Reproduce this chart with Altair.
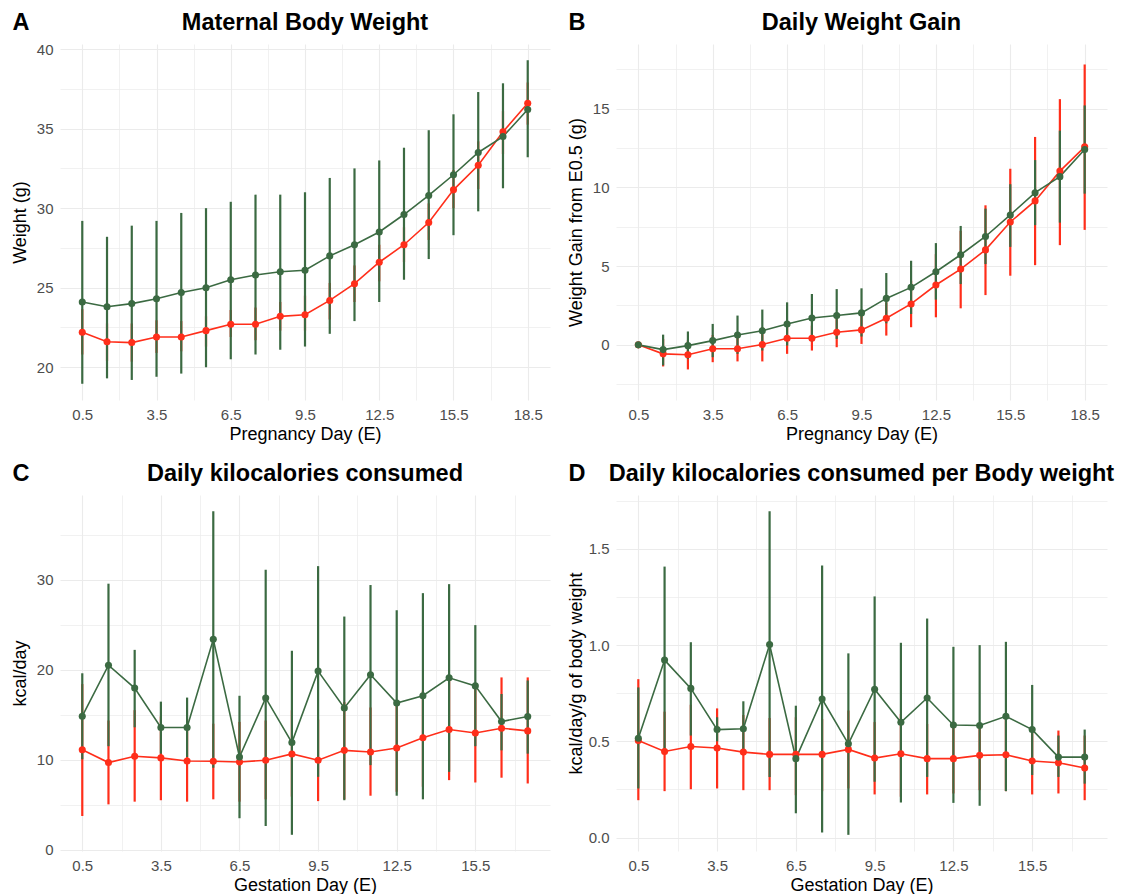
import altair as alt
import pandas as pd

# ---------------- data ----------------
days_ab = [0.5, 1.5, 2.5, 3.5, 4.5, 5.5, 6.5, 7.5, 8.5, 9.5, 10.5, 11.5, 12.5, 13.5, 14.5, 15.5, 16.5, 17.5, 18.5]
days_cd = [0.5, 1.5, 2.5, 3.5, 4.5, 5.5, 6.5, 7.5, 8.5, 9.5, 10.5, 11.5, 12.5, 13.5, 14.5, 15.5, 16.5, 17.5]

# Panel A: Maternal body weight (g)
a_red_mean = [22.2, 21.6, 21.55, 21.9, 21.9, 22.3, 22.7, 22.7, 23.2, 23.3, 24.2, 25.25, 26.6, 27.7, 29.1, 31.15, 32.7, 34.8, 36.6]
a_red_hi = [23.65, 22.75, 22.75, 22.95, 22.9, 23.2, 23.6, 23.75, 24.1, 24.5, 25.3, 26.4, 27.7, 28.8, 30.3, 32.4, 34.2, 36.1, 37.9]
a_red_lo = [20.8, 20.4, 20.35, 20.9, 21.0, 21.3, 21.9, 21.7, 22.3, 22.3, 23.0, 24.1, 25.4, 26.6, 28.0, 30.0, 31.2, 33.4, 35.25]
a_grn_mean = [24.1, 23.8, 24.0, 24.3, 24.7, 25.0, 25.5, 25.8, 26.0, 26.1, 27.0, 27.7, 28.5, 29.6, 30.8, 32.1, 33.5, 34.5, 36.2]
a_grn_hi = [29.2, 28.2, 28.9, 29.2, 29.7, 30.0, 30.4, 30.85, 30.85, 31.0, 31.9, 32.5, 33.0, 33.8, 34.9, 35.9, 37.3, 37.85, 39.3]
a_grn_lo = [18.96, 19.3, 19.2, 19.4, 19.6, 20.0, 20.5, 20.8, 21.1, 21.3, 22.1, 22.9, 24.1, 25.5, 26.8, 28.3, 29.8, 31.25, 33.2]

# Panel B: Weight gain from E0.5 (g)
b_red_mean = [0.0, -0.57, -0.63, -0.25, -0.25, 0.02, 0.42, 0.42, 0.8, 0.95, 1.69, 2.6, 3.8, 4.81, 6.03, 7.8, 9.14, 11.03, 12.57]
b_red_hi = [0.0, 0.38, 0.27, 0.63, 0.59, 1.12, 1.39, 1.22, 1.86, 1.96, 2.7, 4.07, 5.76, 7.24, 8.86, 11.18, 13.2, 15.6, 17.8]
b_red_lo = [0.0, -1.37, -1.56, -1.1, -1.05, -1.05, -0.57, -0.36, -0.15, 0.06, 0.59, 1.12, 1.75, 2.32, 3.16, 4.39, 5.06, 6.33, 7.3]
b_grn_mean = [0.0, -0.3, -0.05, 0.27, 0.63, 0.9, 1.33, 1.71, 1.86, 2.03, 2.95, 3.65, 4.64, 5.72, 6.88, 8.25, 9.66, 10.68, 12.4]
b_grn_hi = [0.0, 0.65, 0.85, 1.33, 1.86, 2.24, 2.7, 3.23, 3.54, 3.59, 4.56, 5.34, 6.46, 7.55, 8.65, 10.2, 11.73, 13.6, 15.2]
b_grn_lo = [0.0, -1.3, -0.9, -0.78, -0.57, -0.36, -0.04, 0.21, 0.38, 0.53, 1.37, 1.96, 2.87, 3.86, 5.13, 6.22, 7.6, 7.76, 9.6]

# Panel C: Daily kilocalories consumed (kcal/day)
c_red_mean = [11.1, 9.68, 10.38, 10.2, 9.86, 9.83, 9.75, 9.94, 10.64, 9.94, 11.04, 10.86, 11.3, 12.44, 13.36, 12.96, 13.5, 13.2]
c_red_hi = [18.4, 14.35, 15.5, 14.8, 14.5, 14.0, 14.2, 14.35, 15.5, 14.46, 16.4, 15.8, 16.4, 17.67, 18.95, 18.15, 19.14, 19.14]
c_red_lo = [3.75, 5.04, 5.34, 5.5, 5.34, 5.6, 5.34, 5.6, 5.9, 5.4, 5.6, 6.0, 6.44, 7.0, 7.73, 7.47, 8.0, 7.36]
c_grn_mean = [14.83, 20.5, 17.96, 13.58, 13.58, 23.37, 10.3, 16.86, 11.9, 19.84, 15.75, 19.43, 16.3, 17.1, 19.1, 18.2, 14.24, 14.8]
c_grn_hi = [19.6, 29.55, 22.2, 16.45, 16.9, 37.6, 17.1, 31.1, 22.1, 31.5, 25.9, 29.4, 26.6, 28.5, 29.5, 24.95, 17.3, 18.8]
c_grn_lo = [10.05, 11.5, 13.6, 10.67, 10.3, 9.1, 3.5, 2.65, 1.66, 8.1, 5.5, 9.4, 6.0, 5.6, 8.65, 11.5, 11.04, 10.67]

# Panel D: Daily kilocalories per body weight (kcal/day/g)
d_red_mean = [0.504, 0.447, 0.473, 0.465, 0.444, 0.432, 0.432, 0.432, 0.458, 0.413, 0.435, 0.41, 0.41, 0.427, 0.43, 0.398, 0.389, 0.361]
d_red_hi = [0.823, 0.654, 0.69, 0.671, 0.637, 0.621, 0.625, 0.616, 0.66, 0.6, 0.642, 0.59, 0.578, 0.59, 0.62, 0.547, 0.556, 0.53]
d_red_lo = [0.194, 0.241, 0.251, 0.255, 0.246, 0.246, 0.22, 0.241, 0.255, 0.224, 0.212, 0.224, 0.229, 0.246, 0.241, 0.224, 0.229, 0.194]
d_grn_mean = [0.516, 0.922, 0.775, 0.561, 0.565, 1.003, 0.41, 0.72, 0.487, 0.771, 0.599, 0.725, 0.585, 0.582, 0.63, 0.561, 0.418, 0.418]
d_grn_hi = [0.78, 1.408, 1.015, 0.625, 0.708, 1.695, 0.685, 1.413, 0.957, 1.253, 1.012, 1.138, 0.991, 1.0, 1.017, 0.793, 0.53, 0.561]
d_grn_lo = [0.255, 0.436, 0.53, 0.5, 0.43, 0.315, 0.126, 0.026, 0.014, 0.29, 0.182, 0.315, 0.18, 0.165, 0.241, 0.325, 0.315, 0.28]

groups = ["Group 1", "Group 2"]
colors = ["#FF2E1A", "#3B6A42"]

FONT = "Liberation Sans"
PANEL_H = 356


def long_df(days, rm, rh, rl, gm, gh, gl):
    rows = []
    for g, (m, h, l) in zip(groups, [(rm, rh, rl), (gm, gh, gl)]):
        for d, mv, hv, lv in zip(days, m, h, l):
            rows.append({"day": d, "group": g, "mean": mv, "hi": hv, "lo": lv})
    return pd.DataFrame(rows)


def grid_width(test):
    return {"condition": {"test": test, "value": 1.1}, "value": 0.7}


def panel(df, tag, title, xtitle, ytitle, xdom, xvals, ydom, yvals, ymaj_test, yfmt, w):
    xaxis = alt.Axis(values=xvals, format=".1f",
                     labelExpr="(datum.value - 0.5) % 3 == 0 ? datum.label : ''",
                     title=xtitle, ticks=False, domain=False, labelOverlap=False,
                     labelFlush=False, labelPadding=7, titlePadding=3,
                     gridWidth=grid_width("(datum.value - 0.5) % 3 == 0"))
    yaxis = alt.Axis(values=yvals, format=yfmt,
                     labelExpr="(" + ymaj_test + ") ? datum.label : ''",
                     title=ytitle, ticks=False, domain=False, labelOverlap=False,
                     labelFlush=False, labelPadding=7, titleX=-31,
                     gridWidth=grid_width(ymaj_test))
    xenc = alt.X("day:Q", scale=alt.Scale(domain=xdom, nice=False, zero=False), axis=xaxis)
    yscale = alt.Scale(domain=ydom, nice=False, zero=False)
    color = alt.Color("group:N", scale=alt.Scale(domain=groups, range=colors), legend=None)
    base = alt.Chart(df)
    bars = base.mark_rule(strokeWidth=2.2).encode(
        x=xenc, y=alt.Y("lo:Q", scale=yscale, axis=yaxis), y2="hi:Q", color=color)
    line = base.mark_line(strokeWidth=1.6).encode(
        x="day:Q", y=alt.Y("mean:Q"), color=color, order="day:Q")
    pts = base.mark_circle(size=50, opacity=1).encode(
        x="day:Q", y=alt.Y("mean:Q"), color=color)
    lab = pd.DataFrame({"tag": [tag], "title": [title]})
    tagtxt = alt.Chart(lab).mark_text(
        font=FONT, fontSize=23.5, fontWeight="bold", color="black",
        align="center", baseline="alphabetic").encode(
        text="tag:N", x=alt.value(-39), y=alt.value(-14))
    titletxt = alt.Chart(lab).mark_text(
        font=FONT, fontSize=23.5, fontWeight="bold", color="black",
        align="center", baseline="alphabetic").encode(
        text="title:N", x=alt.value(w / 2), y=alt.value(-14))
    return alt.layer(bars, line, pts, tagtxt, titletxt).properties(width=w, height=PANEL_H)


df_a = long_df(days_ab, a_red_mean, a_red_hi, a_red_lo, a_grn_mean, a_grn_hi, a_grn_lo)
df_b = long_df(days_ab, b_red_mean, b_red_hi, b_red_lo, b_grn_mean, b_grn_hi, b_grn_lo)
df_c = long_df(days_cd, c_red_mean, c_red_hi, c_red_lo, c_grn_mean, c_grn_hi, c_grn_lo)
df_d = long_df(days_cd, d_red_mean, d_red_hi, d_red_lo, d_grn_mean, d_grn_hi, d_grn_lo)

xv_ab = [0.5, 2, 3.5, 5, 6.5, 8, 9.5, 11, 12.5, 14, 15.5, 17, 18.5]
xv_cd = [0.5, 2, 3.5, 5, 6.5, 8, 9.5, 11, 12.5, 14, 15.5, 17]

pa = panel(df_a, "A", "Maternal Body Weight", "Pregnancy Day (E)", "Weight (g)",
           [-0.4, 19.4], xv_ab, [17.94, 40.32], [20, 22.5, 25, 27.5, 30, 32.5, 35, 37.5, 40],
           "datum.value % 5 == 0", "d", 490)
pb = panel(df_b, "B", "Daily Weight Gain", "Pregnancy Day (E)", "Weight Gain from E0.5 (g)",
           [-0.4, 19.4], xv_ab, [-3.5, 19.1], [-2.5, 0, 2.5, 5, 7.5, 10, 12.5, 15, 17.5],
           "datum.value % 5 == 0", "d", 491)
pc = panel(df_c, "C", "Daily kilocalories consumed", "Gestation Day (E)", "kcal/day",
           [-0.35, 18.35], xv_cd, [-0.14, 39.4], [0, 5, 10, 15, 20, 25, 30, 35],
           "datum.value % 10 == 0", "d", 490)
pd_ = panel(df_d, "D", "Daily kilocalories consumed per Body weight", "Gestation Day (E)",
            "kcal/day/g of body weight",
            [-0.35, 18.35], xv_cd, [-0.07, 1.78], [0, 0.25, 0.5, 0.75, 1.0, 1.25, 1.5, 1.75],
            "datum.value % 0.5 == 0", ".1f", 491)

chart = alt.concat(pa, pb, pc, pd_, columns=2, spacing={"row": 95, "column": 66},
                   bounds="flush").properties(
    padding={"left": 11, "top": 11, "right": 5, "bottom": 5},
    background="white",
).configure_view(stroke=None).configure_axis(
    labelFont=FONT, titleFont=FONT, labelFontSize=15, titleFontSize=18,
    labelColor="#4D4D4D", titleColor="black", titleFontWeight="normal",
    gridColor="#EBEBEB",
)

chart.save("out.html", embed_options={"renderer": "svg", "actions": False})
